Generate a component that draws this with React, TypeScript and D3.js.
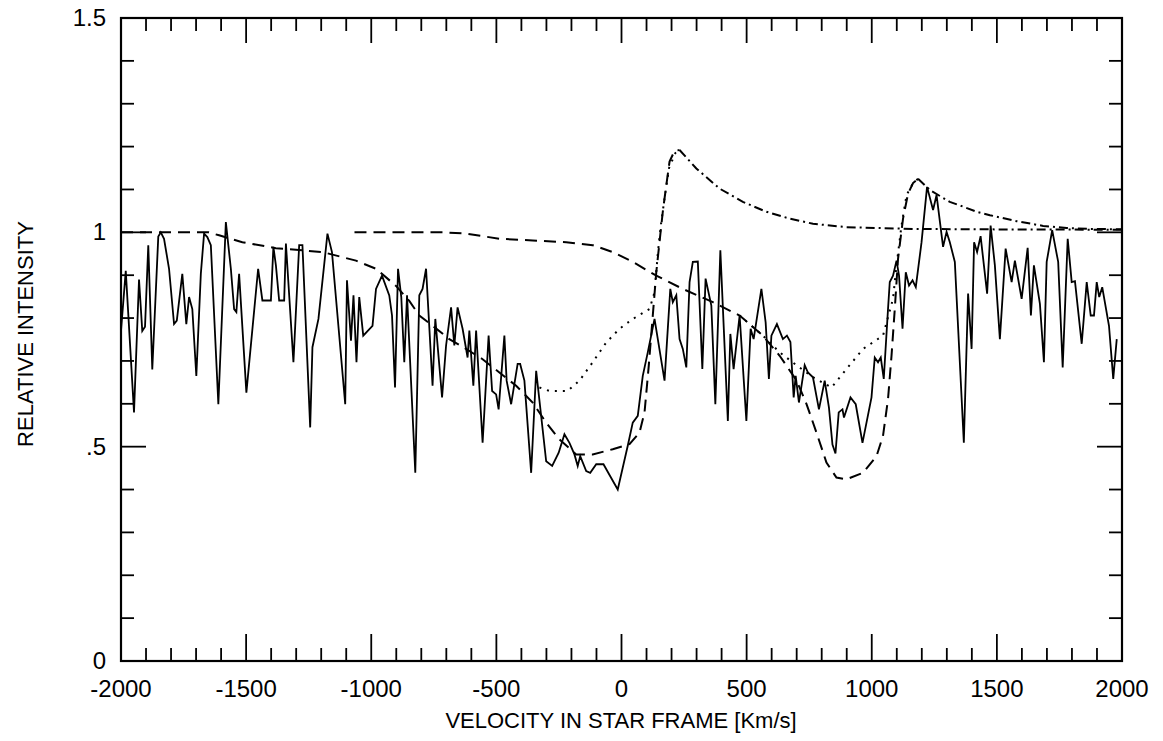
import React from "react";
import * as d3 from "d3";

// Observed spectrum (solid): velocity [km/s], relative intensity
const obsV = [-2000,-1981,-1948,-1928,-1915,-1904,-1891,-1875,-1851,-1841,-1828,-1808,-1788,-1777,-1755,-1739,-1728,-1715,-1699,-1681,-1668,-1655,-1641,-1611,-1581,-1561,-1548,-1539,-1528,-1499,-1452,-1435,-1401,-1391,-1381,-1368,-1348,-1341,-1311,-1288,-1275,-1244,-1235,-1211,-1175,-1157,-1104,-1097,-1081,-1071,-1059,-1048,-1032,-995,-981,-957,-928,-917,-905,-893,-880,-868,-857,-824,-808,-795,-781,-755,-744,-717,-701,-681,-668,-655,-635,-615,-608,-592,-581,-555,-531,-517,-501,-491,-468,-459,-441,-415,-405,-388,-361,-341,-301,-277,-251,-228,-208,-188,-175,-165,-141,-125,-101,-72,-45,-15,25,45,65,85,105,132,172,195,205,219,232,245,259,272,285,305,323,336,359,375,395,425,435,448,472,499,516,528,559,576,589,599,621,645,661,675,688,696,709,732,745,765,789,812,829,843,855,868,883,889,915,936,963,999,1012,1025,1036,1048,1065,1072,1085,1099,1109,1123,1136,1149,1163,1176,1199,1221,1245,1259,1285,1299,1312,1332,1368,1385,1399,1409,1421,1435,1461,1475,1492,1512,1535,1559,1572,1599,1623,1636,1648,1672,1688,1699,1721,1745,1763,1783,1799,1812,1839,1859,1875,1888,1899,1909,1921,1948,1965,1979];
const obsI = [0.77,0.91,0.58,0.89,0.77,0.78,0.97,0.68,0.99,1.0,0.985,0.915,0.786,0.794,0.903,0.786,0.849,0.821,0.665,0.903,0.997,0.989,0.97,0.599,1.024,0.915,0.821,0.814,0.903,0.626,0.915,0.841,0.841,0.966,0.923,0.841,0.841,0.974,0.697,0.97,0.97,0.545,0.732,0.798,0.997,0.954,0.599,0.888,0.747,0.853,0.697,0.849,0.759,0.782,0.868,0.899,0.853,0.806,0.638,0.915,0.849,0.697,0.853,0.439,0.853,0.868,0.915,0.642,0.798,0.615,0.736,0.825,0.736,0.825,0.775,0.708,0.771,0.642,0.771,0.509,0.759,0.63,0.622,0.587,0.759,0.654,0.599,0.693,0.693,0.654,0.439,0.677,0.466,0.455,0.486,0.529,0.509,0.482,0.455,0.478,0.443,0.439,0.459,0.459,0.431,0.4,0.502,0.556,0.572,0.665,0.72,0.798,0.654,0.868,0.837,0.853,0.751,0.728,0.685,0.884,0.931,0.932,0.681,0.892,0.829,0.599,0.958,0.56,0.763,0.681,0.806,0.56,0.775,0.751,0.868,0.79,0.658,0.759,0.786,0.751,0.759,0.744,0.615,0.665,0.603,0.69,0.673,0.662,0.587,0.654,0.591,0.505,0.484,0.58,0.587,0.568,0.615,0.599,0.509,0.615,0.708,0.697,0.708,0.658,0.821,0.884,0.899,0.934,0.899,0.775,0.907,0.876,0.888,0.872,0.977,1.106,1.052,1.087,0.966,1.001,0.977,0.931,0.509,0.857,0.728,0.977,0.954,0.991,0.857,1.016,0.923,0.751,0.962,0.884,0.934,0.845,0.964,0.806,0.923,0.833,0.697,0.931,1.005,0.931,0.685,0.985,0.884,0.886,0.74,0.884,0.806,0.806,0.884,0.849,0.872,0.782,0.658,0.751];

// Model 1 (dashed, then dotted variant, then dash-dot tail)
const m1DashV = [-2000,-1650,-1608,-1515,-1381,-1195,-1061,-981,-901,-848,-808,-755,-688,-621,-555,-488,-421,-355,-301,-248,-181,-115,-35,32,72,92,109,125,139,152,165,179,192,212,232];
const m1DashI = [1.0,1.0,0.993,0.977,0.963,0.954,0.934,0.915,0.875,0.84,0.806,0.782,0.751,0.728,0.704,0.673,0.642,0.603,0.556,0.517,0.482,0.482,0.494,0.506,0.533,0.58,0.689,0.806,0.907,0.978,1.048,1.11,1.165,1.19,1.192];
const m1DotV = [-328,-288,-215,-168,-115,-61,-8,45,112,132,145,158,172,190,215,232];
const m1DotI = [0.638,0.63,0.63,0.654,0.697,0.743,0.775,0.798,0.821,0.86,0.95,1.02,1.079,1.15,1.185,1.192];
const m1TailV = [232,299,392,485,579,672,765,899,1032,1165,1432,2000];
const m1TailI = [1.192,1.149,1.102,1.071,1.048,1.032,1.02,1.012,1.01,1.008,1.007,1.006];

// Model 2
const m2DashV = [-1067,-715,-621,-488,-355,-221,-115,-35,45,139,245,365,472,565,632,699,739,779,819,859,899,965,1019,1045,1065,1079,1092,1105,1125,1145,1165,1185];
const m2DashI = [1.0,1.0,0.997,0.985,0.981,0.977,0.97,0.954,0.931,0.899,0.868,0.837,0.806,0.759,0.712,0.655,0.6,0.533,0.463,0.428,0.424,0.439,0.478,0.525,0.611,0.712,0.821,0.938,1.032,1.09,1.115,1.125];
const m2DotV = [472,565,632,699,765,839,899,965,1045,1085,1099,1119,1139,1165,1185];
const m2DotI = [0.806,0.759,0.72,0.69,0.662,0.638,0.681,0.728,0.759,0.845,0.923,1.016,1.087,1.115,1.125];
const m2TailV = [1185,1234,1312,1365,1419,1472,1579,1685,1779,1872,2000];
const m2TailI = [1.125,1.098,1.071,1.06,1.048,1.04,1.026,1.015,1.01,1.008,1.007];

const xTickLabels = ["-2000", "-1500", "-1000", "-500", "0", "500", "1000", "1500", "2000"];
const xTickValues = [-2000, -1500, -1000, -500, 0, 500, 1000, 1500, 2000];
const yTickLabels = ["0", ".5", "1", "1.5"];
const yTickValues = [0, 0.5, 1, 1.5];

const FONT = "'Liberation Sans', Arial, Helvetica, sans-serif";

export default function App() {
  const W = 1163, H = 741;
  const x = d3.scaleLinear().domain([-2000, 2000]).range([121, 1122]);
  const y = d3.scaleLinear().domain([0, 1.5]).range([661, 18]);
  const line = d3.line<[number, number]>().x(d => x(d[0])).y(d => y(d[1]));
  const mk = (vs: number[], is: number[]) => line(vs.map((v, i) => [v, is[i]] as [number, number])) || "";

  const xMinor = d3.range(-2000, 2001, 100);
  const yMinor = d3.range(0, 16).map(i => i / 10);
  const [x0, x1] = x.range();
  const [yb, yt] = y.range();

  return (
    <svg width={W} height={H} style={{ position: "absolute", left: 0, top: 0, display: "block", background: "#fff" }}>
      <rect x={0} y={0} width={W} height={H} fill="#fff" />
      {/* frame */}
      <rect x={x0} y={yt} width={x1 - x0} height={yb - yt} fill="none" stroke="#000" strokeWidth={2.2} />
      {/* x ticks bottom and top */}
      {xMinor.map(v => {
        const major = v % 500 === 0;
        const len = major ? 27 : 13;
        return (
          <g key={"xt" + v}>
            <line x1={x(v)} x2={x(v)} y1={yb} y2={yb - len} stroke="#000" strokeWidth={1.8} />
            <line x1={x(v)} x2={x(v)} y1={yt} y2={yt + (major ? 25 : 13)} stroke="#000" strokeWidth={1.8} />
          </g>
        );
      })}
      {/* y ticks left and right */}
      {yMinor.map(v => {
        const major = Math.abs(v * 2 - Math.round(v * 2)) < 1e-6;
        const len = major ? 25 : 13;
        return (
          <g key={"yt" + v}>
            <line x1={x0} x2={x0 + len} y1={y(v)} y2={y(v)} stroke="#000" strokeWidth={1.8} />
            <line x1={x1} x2={x1 - len} y1={y(v)} y2={y(v)} stroke="#000" strokeWidth={1.8} />
          </g>
        );
      })}
      {/* x tick labels */}
      {xTickValues.map((v, i) => (
        <text key={"xl" + v} x={x(v)} y={697} textAnchor="middle" fontFamily={FONT} fontSize={24} fill="#000">
          {xTickLabels[i]}
        </text>
      ))}
      {/* y tick labels */}
      {yTickValues.map((v, i) => (
        <text key={"yl" + v} x={106} y={y(v) + 8} textAnchor="end" fontFamily={FONT} fontSize={24} fill="#000">
          {yTickLabels[i]}
        </text>
      ))}
      {/* axis titles */}
      <text x={621} y={728} textAnchor="middle" fontFamily={FONT} fontSize={22} fill="#000">
        VELOCITY IN STAR FRAME [Km/s]
      </text>
      <text transform="rotate(-90)" x={-334} y={33} textAnchor="middle" fontFamily={FONT} fontSize={22} fill="#000">
        RELATIVE INTENSITY
      </text>
      {/* model curves */}
      <g fill="none" stroke="#000" strokeWidth={2}>
        <path d={mk(m1DashV, m1DashI)} strokeDasharray="12,7" />
        <path d={mk(m1DotV, m1DotI)} strokeDasharray="2,6" />
        <path d={mk(m1TailV, m1TailI)} strokeDasharray="9,4,2,4" />
        <path d={mk(m2DashV, m2DashI)} strokeDasharray="12,7" />
        <path d={mk(m2DotV, m2DotI)} strokeDasharray="2,6" />
        <path d={mk(m2TailV, m2TailI)} strokeDasharray="9,4,2,4" />
      </g>
      {/* observed spectrum */}
      <path d={mk(obsV, obsI)} fill="none" stroke="#000" strokeWidth={1.8} strokeLinejoin="miter" />
    </svg>
  );
}
